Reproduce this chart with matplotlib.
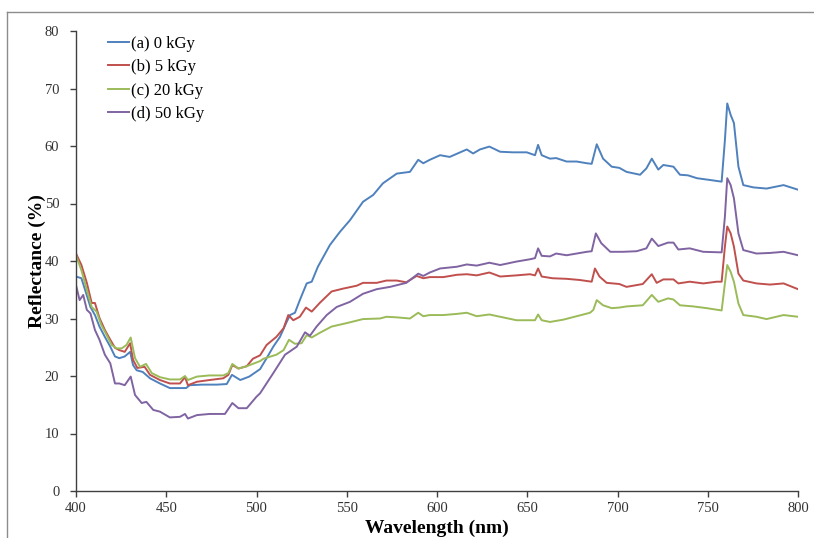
import matplotlib
matplotlib.use("Agg")
import matplotlib.pyplot as plt
from matplotlib.lines import Line2D

plt.rcParams['font.family'] = ['Liberation Serif', 'DejaVu Serif']

labels = ["(a) 0 kGy", "(b) 5 kGy", "(c) 20 kGy", "(d) 50 kGy"]
colors = ["#4F81BD", "#C0504D", "#9BBB59", "#8064A2"]

wl_a = [400, 403, 405, 408, 410.5, 413, 416, 419, 421.6, 424, 427, 430, 431.6, 433.6, 437, 441, 446.5, 452,
        457.6, 461, 463, 470, 478, 483.5, 486.4, 491, 496, 502, 505.6, 509.3, 513, 516.7, 518.6, 521.3, 524,
        527.8, 530.6, 534, 540.7, 546.3, 551.8, 559, 564.7, 570, 577.7, 585, 589.6, 592.4, 596, 601.7, 607,
        616.5, 620, 623.8, 629, 635, 642, 649.7, 654.3, 656, 658, 662.6, 666, 671.8, 677.4, 683, 685.7, 688.5,
        692, 696.8, 701, 705, 712.5, 716, 719, 722.6, 725.4, 731, 734.6, 739, 744, 751, 757.7, 759.5, 760.8,
        762.7, 764.5, 767, 769.7, 775.3, 782.6, 792, 800]
refl_a = [37.3, 37.0, 35.0, 32.0, 30.6, 28.6, 26.8, 25.1, 23.4, 23.1, 23.4, 24.2, 21.9, 21.0, 20.7, 19.6, 18.7, 17.9,
          17.9, 17.9, 18.4, 18.5, 18.5, 18.6, 20.2, 19.3, 19.9, 21.2, 23.1, 25.1, 26.8, 29.4, 30.6, 31.0, 33.2,
          36.1, 36.4, 39.0, 42.8, 45.1, 47.1, 50.3, 51.5, 53.5, 55.2, 55.5, 57.6, 57.0, 57.6, 58.4, 58.1,
          59.4, 58.7, 59.4, 59.9, 59.0, 58.9, 58.9, 58.4, 60.2, 58.4, 57.8, 57.9, 57.3, 57.3, 57.0, 56.9, 60.3,
          57.8, 56.4, 56.2, 55.5, 55.0, 56.1, 57.8, 55.9, 56.7, 56.4, 55.0, 54.9, 54.4, 54.1, 53.8, 61.0, 67.4,
          65.4, 64.0, 56.4, 53.2, 52.8, 52.6, 53.2, 52.4]

wl_b = [400, 403, 406, 408.7, 410.5, 413, 416, 419, 421.6, 424, 427, 430, 431.6, 434, 438, 441, 446.5, 452, 457.6,
        460.4, 462, 467, 474, 481.6, 484.4, 486.6, 490, 494.6, 498, 502, 505.6, 511, 515, 517.6, 520.4, 524,
        527.4, 530.6, 535, 541.6, 548, 555.5, 559, 566.6, 572, 577.7, 583, 588.7, 592.4, 596, 603.5, 611, 616.5,
        622, 629, 635, 644, 651.5, 654.3, 656, 658, 664, 671.8, 679, 685.7, 687.5, 690, 694, 701, 705, 714, 719,
        721.7, 725.4, 731, 733.7, 740, 747.5, 755, 757.7, 759.5, 760.8, 762.7, 764.5, 767, 769.7, 777, 784.5,
        792, 800]
refl_b = [41.3, 39.3, 36.2, 32.7, 32.7, 30.1, 28.0, 26.3, 24.9, 24.5, 24.2, 25.7, 22.8, 21.4, 21.6, 20.2, 19.3, 18.7,
          18.7, 19.8, 18.4, 19.0, 19.3, 19.6, 20.2, 21.9, 21.3, 21.7, 23.0, 23.6, 25.4, 26.8, 28.3, 30.6, 29.7, 30.3,
          31.9, 31.2, 32.7, 34.7, 35.2, 35.7, 36.2, 36.2, 36.6, 36.6, 36.3, 37.4, 37.0, 37.2, 37.2, 37.6, 37.7,
          37.5, 38.0, 37.3, 37.5, 37.7, 37.5, 38.7, 37.3, 37.0, 36.9, 36.7, 36.4, 38.7, 37.3, 36.2, 36.0, 35.5,
          36.0, 37.7, 36.2, 36.8, 36.8, 36.1, 36.4, 36.1, 36.4, 36.4, 42.5, 46.0, 44.8, 42.5, 37.8, 36.6, 36.1,
          35.9, 36.1, 35.1]

wl_c = [400, 403, 406, 408.7, 411.4, 414, 417, 419.8, 422.5, 425.3, 428, 430.3, 432.7, 435.5, 438.8, 442, 446.5,
        452, 457.6, 460.4, 462, 467, 474, 481.6, 484.4, 486.6, 490, 494.6, 502, 503.8, 511, 515, 518, 521.3, 525,
        527.8, 530.6, 535, 541.6, 550, 559, 568.4, 572, 577.7, 585, 589.6, 592.4, 596, 603.5, 611, 616.5, 622,
        629, 635, 644, 651.5, 654.3, 656, 658, 662.6, 670, 677.4, 684.8, 686.6, 688.5, 692, 696.8, 701, 705, 714,
        719, 722.6, 728, 731, 734.6, 742, 749.4, 757.7, 759.5, 760.8, 762.7, 764.5, 767, 769.7, 777, 782.6, 792,
        800]
refl_c = [41.0, 38.4, 35.0, 32.0, 31.2, 28.9, 27.1, 25.4, 24.8, 24.8, 25.4, 26.7, 23.1, 21.6, 22.1, 20.5, 19.8,
          19.4, 19.4, 20.0, 19.3, 19.9, 20.1, 20.1, 20.5, 22.1, 21.3, 21.7, 22.6, 23.0, 23.7, 24.5, 26.3, 25.6, 25.7,
          27.1, 26.7, 27.5, 28.6, 29.2, 29.9, 30.0, 30.3, 30.2, 30.0, 31.0, 30.4, 30.6, 30.6, 30.8, 31.0, 30.4,
          30.7, 30.3, 29.7, 29.7, 29.7, 30.7, 29.7, 29.4, 29.8, 30.4, 31.0, 31.5, 33.2, 32.3, 31.8, 31.9, 32.1, 32.3,
          34.1, 32.9, 33.5, 33.3, 32.3, 32.1, 31.8, 31.4, 36.1, 39.3, 38.1, 36.4, 32.6, 30.6, 30.3, 29.9, 30.6,
          30.3]

wl_d = [400, 402, 404, 406, 408, 410.5, 413, 416, 419, 421.6, 424, 427, 430.3, 432.7, 436.4, 439, 442.8, 446.5,
        452, 457.6, 460.4, 462, 467, 474, 482.5, 486.6, 490, 494.6, 500, 502, 509.3, 515.8, 518.6, 522.3, 526.9,
        529.6, 533.3, 538.9, 544.4, 551.8, 559, 566.6, 574, 583, 589.6, 592.4, 596, 601.7, 611, 616.5, 622, 629,
        635, 644, 651.5, 654.3, 656, 658, 662.6, 666, 671.8, 677.4, 683, 685.7, 688, 691, 696, 703, 710.6, 716,
        719, 722.6, 728, 731, 733.7, 740, 747.5, 757.7, 759.5, 760.8, 762.7, 764.5, 767, 769.7, 777, 784.5, 792,
        800]
refl_d = [35.8, 33.2, 34.1, 31.5, 30.9, 28.0, 26.3, 23.7, 22.2, 18.7, 18.7, 18.4, 19.9, 16.7, 15.3, 15.5, 14.1,
          13.8, 12.8, 12.9, 13.4, 12.6, 13.2, 13.4, 13.4, 15.3, 14.4, 14.4, 16.4, 17.0, 20.5, 23.7, 24.3, 25.1,
          27.6, 27.0, 28.6, 30.6, 32.0, 32.9, 34.3, 35.1, 35.5, 36.2, 37.8, 37.4, 38.0, 38.7, 39.0, 39.4, 39.2,
          39.7, 39.3, 39.9, 40.3, 40.5, 42.2, 40.9, 40.8, 41.3, 41.0, 41.3, 41.6, 41.7, 44.8, 43.1, 41.6, 41.6,
          41.7, 42.2, 43.9, 42.6, 43.2, 43.2, 42.0, 42.2, 41.6, 41.5, 47.7, 54.4, 53.2, 50.9, 44.8, 41.9, 41.3,
          41.4, 41.6, 41.0]

x_ticks = [400, 450, 500, 550, 600, 650, 700, 750, 800]
y_ticks = [0, 10, 20, 30, 40, 50, 60, 70, 80]

W, H = 814, 538
fig = plt.figure(figsize=(W / 100, H / 100), dpi=100)
ax = fig.add_axes([76 / W, 1 - 491 / H, (798 - 76) / W, (491 - 31) / H])

series = [(wl_a, refl_a), (wl_b, refl_b), (wl_c, refl_c), (wl_d, refl_d)]
for (wx, wy), lab, col in zip(series, labels, colors):
    ax.plot(wx, wy, color=col, lw=1.4, label=lab, solid_joinstyle='round')

ax.set_xlim(400, 800)
ax.set_ylim(0, 80)
ax.set_xticks(x_ticks)
ax.set_yticks(y_ticks)
for s in ['top', 'right']:
    ax.spines[s].set_visible(False)
for s in ['left', 'bottom']:
    ax.spines[s].set_color('#404040')
    ax.spines[s].set_linewidth(1.0)
ax.tick_params(direction='out', length=4, width=1.0, color='#404040', labelsize=10.5,
               labelcolor='#333333')
ax.tick_params(axis='y', pad=8)
ax.tick_params(axis='x', pad=4)

ax.set_xlabel("Wavelength (nm)", fontsize=14, fontweight='bold', labelpad=3.5)
ax.set_ylabel("Reflectance (%)", fontsize=14, fontweight='bold', labelpad=-1)

leg = ax.legend(loc='upper left', bbox_to_anchor=(0.044, 0.99), frameon=False, fontsize=12,
                borderpad=0, handlelength=1.3, handletextpad=0.1, labelspacing=0.45,
                borderaxespad=0)

# figure border (cropped chart frame)
fig.add_artist(Line2D([7 / W, 1.0], [1 - 12 / H, 1 - 12 / H], transform=fig.transFigure,
                      color='#8c8c8c', lw=1.0))
fig.add_artist(Line2D([7 / W, 7 / W], [0.0, 1 - 12 / H], transform=fig.transFigure,
                      color='#8c8c8c', lw=1.0))

fig.savefig("out.png", dpi=100)
